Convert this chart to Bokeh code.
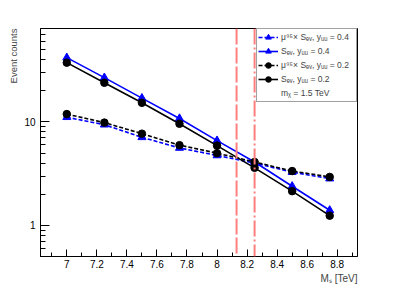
import math
from bokeh.plotting import figure
from bokeh.models import (Range1d, FixedTicker, LogTicker, CustomJSTickFormatter, Span,
                          Legend, LegendItem, Title)
from bokeh.embed import file_html
from bokeh.resources import INLINE

# ---- data ----
ms = [7.0, 7.25, 7.5, 7.75, 8.0, 8.25, 8.5, 8.75]
mu_s_y04 = [11.1, 9.4, 7.1, 5.6, 4.74, 4.0, 3.27, 2.83]
s_y04 = [41.8, 26.8, 17.0, 10.8, 6.6, 4.1, 2.39, 1.40]
mu_s_y02 = [11.9, 9.85, 7.7, 5.96, 4.99, 4.1, 3.35, 2.94]
s_y02 = [37.4, 23.9, 15.3, 9.6, 5.9, 3.6, 2.14, 1.24]
limit_lines = [8.13, 8.25]
x_major = [7.0, 7.2, 7.4, 7.6, 7.8, 8.0, 8.2, 8.4, 8.6, 8.8]
x_minor = [6.9, 7.1, 7.3, 7.5, 7.7, 7.9, 8.1, 8.3, 8.5, 8.7, 8.9]
labels = ["\u03bc\u2079\u2075\u00d7 S\u2091\u1d65, y\u1d64\u1d64 = 0.4",
          "S\u2091\u1d65, y\u1d64\u1d64 = 0.4",
          "\u03bc\u2079\u2075\u00d7 S\u2091\u1d65, y\u1d64\u1d64 = 0.2",
          "S\u2091\u1d65, y\u1d64\u1d64 = 0.2",
          "m\u1d6a = 1.5 TeV"]
x_title = "M\u209b [TeV]"
y_title = "Event counts"

W, H = 397, 285
FONT = "Liberation Sans"
BLUE = "#0000ff"
BLACK = "#000000"
RED = "#ff7f7f"

p = figure(width=W, height=H, y_axis_type="log", output_backend="svg",
           toolbar_location=None, x_range=Range1d(6.825, 8.935), y_range=Range1d(0.5, 80),
           min_border_left=40, min_border_right=40, min_border_top=28, min_border_bottom=29)
p.grid.visible = False
p.outline_line_color = "black"
p.outline_line_width = 1
p.background_fill_color = "white"
p.border_fill_color = "white"

xa = p.xaxis[0]
xa.ticker = FixedTicker(ticks=x_major, minor_ticks=x_minor)
xa.formatter = CustomJSTickFormatter(code="return tick.toFixed(1).replace(/\\.0$/, '');")
xa.major_tick_in = 7
xa.major_tick_out = 0
xa.minor_tick_in = 4
xa.minor_tick_out = 0
xa.major_label_standoff = 3
xa.major_label_text_font = FONT
xa.major_label_text_font_size = "10px"
xa.major_label_text_color = "black"

ya = p.yaxis[0]
ya.ticker = LogTicker(num_minor_ticks=10)
ya.formatter = CustomJSTickFormatter(code="return String(Math.round(tick));")
ya.major_tick_in = 9
ya.major_tick_out = 0
ya.minor_tick_in = 5
ya.minor_tick_out = 0
ya.major_label_standoff = 5
ya.major_label_text_font = FONT
ya.major_label_text_font_size = "10px"
ya.major_label_text_color = "black"
for ax in (xa, ya):
    ax.axis_line_color = "black"
    ax.major_tick_line_color = "black"
    ax.minor_tick_line_color = "black"

# curves
r1l = p.line(ms, mu_s_y04, line_color=BLUE, line_width=1.6, line_dash="4 2")
r1m = p.scatter(ms, mu_s_y04, marker="triangle", size=8, color=BLUE)
r2l = p.line(ms, s_y04, line_color=BLUE, line_width=1.6)
r2m = p.scatter(ms, s_y04, marker="triangle", size=8, color=BLUE)
r3l = p.line(ms, mu_s_y02, line_color=BLACK, line_width=1.6, line_dash="4 2")
r3m = p.scatter(ms, mu_s_y02, marker="circle", size=7.5, color=BLACK)
r4l = p.line(ms, s_y02, line_color=BLACK, line_width=1.6)
r4m = p.scatter(ms, s_y02, marker="circle", size=7.5, color=BLACK)
dummy = p.scatter([], [], alpha=0)

p.add_layout(Span(location=limit_lines[0], dimension="height", line_color=RED,
                  line_width=2, line_dash="16 3"))
p.add_layout(Span(location=limit_lines[1], dimension="height", line_color=RED,
                  line_width=2, line_dash="16 3 2 3"))

legend = Legend(items=[LegendItem(label=labels[0], renderers=[r1l, r1m]),
                       LegendItem(label=labels[1], renderers=[r2l, r2m]),
                       LegendItem(label=labels[2], renderers=[r3l, r3m]),
                       LegendItem(label=labels[3], renderers=[r4l, r4m]),
                       LegendItem(label=labels[4], renderers=[dummy])],
                location="top_right", margin=0, padding=1, spacing=0,
                label_height=14, glyph_height=14, glyph_width=20, label_standoff=3,
                label_width=74, label_text_font=FONT, label_text_font_size="8.5px",
                border_line_color="#444444", border_line_width=1,
                background_fill_color="white", background_fill_alpha=1)
p.add_layout(legend)

p.add_layout(Title(text=x_title, align="right", text_font=FONT, text_font_size="10px",
                   text_font_style="normal", standoff=0, offset=0), "below")
p.add_layout(Title(text=y_title, align="right", text_font=FONT, text_font_size="9.5px",
                   text_font_style="normal", standoff=5, offset=0), "left")

open("out.html", "w").write(file_html(p, INLINE))
